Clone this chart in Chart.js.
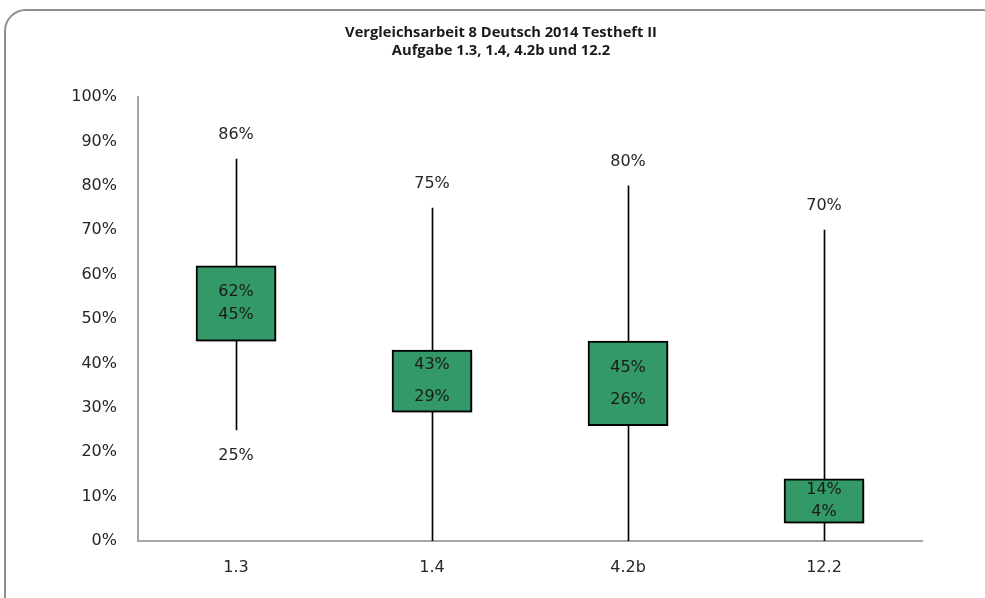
<!DOCTYPE html>
<html>
<head>
<meta charset="utf-8">
<title>Vergleichsarbeit 8 Deutsch 2014 Testheft II</title>
<script src="https://cdn.jsdelivr.net/npm/chart.js@4/dist/chart.umd.min.js"></script>
<style>
  html, body { margin: 0; padding: 0; background: #fff; overflow: hidden; }
  #wrap { position: relative; width: 985px; height: 598px; }
  #frame {
    position: absolute; left: 4px; top: 9px; width: 1000px; height: 610px;
    border: 2px solid #8f8f8f; border-radius: 22px; box-sizing: border-box;
  }
  canvas { position: absolute; left: 0; top: 0; }
</style>
</head>
<body>
<div id="wrap">
  <div id="frame"></div>
  <canvas id="chart" width="985" height="598"></canvas>
</div>
<script>
// Aufgaben und Lösungshäufigkeiten (in Prozent)
const categories = ['1.3', '1.4', '4.2b', '12.2'];
const maxValues   = [86, 75, 80, 70];   // oberes Ende der Linie
const upperValues = [62, 43, 45, 14];   // Oberkante des Kastens
const lowerValues = [45, 29, 26, 4];    // Unterkante des Kastens
const minValues   = [25, 0, 0, 0];      // unteres Ende der Linie
const yTicks      = [0, 10, 20, 30, 40, 50, 60, 70, 80, 90, 100];

const titleLines = ['Vergleichsarbeit 8 Deutsch 2014 Testheft II', 'Aufgabe 1.3, 1.4, 4.2b und 12.2'];

// vertical spread of the two labels inside each box (px from box centre)
const innerLabelSpread = [11.5, 16, 16, 11];

const LABEL_FONT = '16px "DejaVu Sans", sans-serif';
const TEXT_COLOR = '#262626';

// soft drop shadow under the boxes; whiskers nudged half a pixel for a crisp 1px line
const markStyle = {
  id: 'markStyle',
  beforeDatasetDraw(chart, args) {
    const ctx = chart.ctx;
    ctx.save();
    if (args.index === 0) {
      ctx.shadowColor = 'rgba(0,0,0,0.4)';
      ctx.shadowBlur = 4;
      ctx.shadowOffsetX = 3;
      ctx.shadowOffsetY = 3;
    } else {
      ctx.translate(0.5, 0);
    }
  },
  afterDatasetDraw(chart) {
    chart.ctx.restore();
  }
};

const valueLabels = {
  id: 'valueLabels',
  afterDatasetsDraw(chart) {
    const ctx = chart.ctx;
    const y = chart.scales.y;
    const boxes = chart.getDatasetMeta(0).data;
    ctx.save();
    ctx.font = LABEL_FONT;
    ctx.fillStyle = TEXT_COLOR;
    ctx.textAlign = 'center';
    ctx.textBaseline = 'middle';
    categories.forEach((c, i) => {
      const x = boxes[i].x;
      ctx.fillText(maxValues[i] + '%', x, y.getPixelForValue(maxValues[i]) - 24);
      if (minValues[i] > 0) {
        ctx.fillText(minValues[i] + '%', x, y.getPixelForValue(minValues[i]) + 26);
      }
      const top = y.getPixelForValue(upperValues[i]);
      const bot = y.getPixelForValue(lowerValues[i]);
      const mid = (top + bot) / 2;
      ctx.fillStyle = '#1a1a1a';
      ctx.fillText(upperValues[i] + '%', x, mid - innerLabelSpread[i]);
      ctx.fillText(lowerValues[i] + '%', x, mid + innerLabelSpread[i]);
      ctx.fillStyle = TEXT_COLOR;
    });
    ctx.restore();
  }
};

const chartTitle = {
  id: 'chartTitle',
  afterDraw(chart) {
    const ctx = chart.ctx;
    ctx.save();
    ctx.font = 'bold 14.7px "Open Sans", sans-serif';
    ctx.fillStyle = '#1a1a1a';
    ctx.textAlign = 'center';
    ctx.textBaseline = 'middle';
    ctx.fillText(titleLines[0], 501, 33);
    ctx.fillText(titleLines[1], 501, 51);
    ctx.restore();
  }
};

new Chart(document.getElementById('chart'), {
  type: 'bar',
  data: {
    labels: categories,
    datasets: [
      {
        label: 'Kasten',
        data: categories.map((c, i) => [lowerValues[i], upperValues[i]]),
        backgroundColor: '#339966',
        borderColor: '#000000',
        borderWidth: 2,
        borderSkipped: false,
        barThickness: 80,
        grouped: false
      },
      {
        label: 'Spannweite',
        data: categories.map((c, i) => [minValues[i], maxValues[i]]),
        backgroundColor: '#000000',
        borderWidth: 0,
        barThickness: 1,
        grouped: false
      }
    ]
  },
  options: {
    responsive: false,
    animation: false,
    layout: { padding: { left: 0, top: 97, right: 63, bottom: 0 } },
    plugins: {
      legend: { display: false },
      title: { display: false },
      tooltip: { enabled: false }
    },
    scales: {
      x: {
        grid: { display: false, drawTicks: false },
        border: { display: true, color: '#a6a6a6', width: 2 },
        ticks: { font: { family: '"DejaVu Sans", sans-serif', size: 16 }, color: TEXT_COLOR, padding: 17 },
        afterFit(scale) { scale.height = 57; }
      },
      y: {
        min: 0,
        max: 100,
        afterBuildTicks(scale) { scale.ticks = yTicks.map(v => ({ value: v })); },
        grid: { display: false, drawTicks: false },
        border: { display: true, color: '#a6a6a6', width: 2 },
        ticks: {
          font: { family: '"DejaVu Sans", sans-serif', size: 16 },
          color: TEXT_COLOR,
          padding: 21,
          callback: v => v + '%'
        },
        afterFit(scale) { scale.width = 138; }
      }
    }
  },
  plugins: [markStyle, valueLabels, chartTitle]
});
</script>
</body>
</html>
